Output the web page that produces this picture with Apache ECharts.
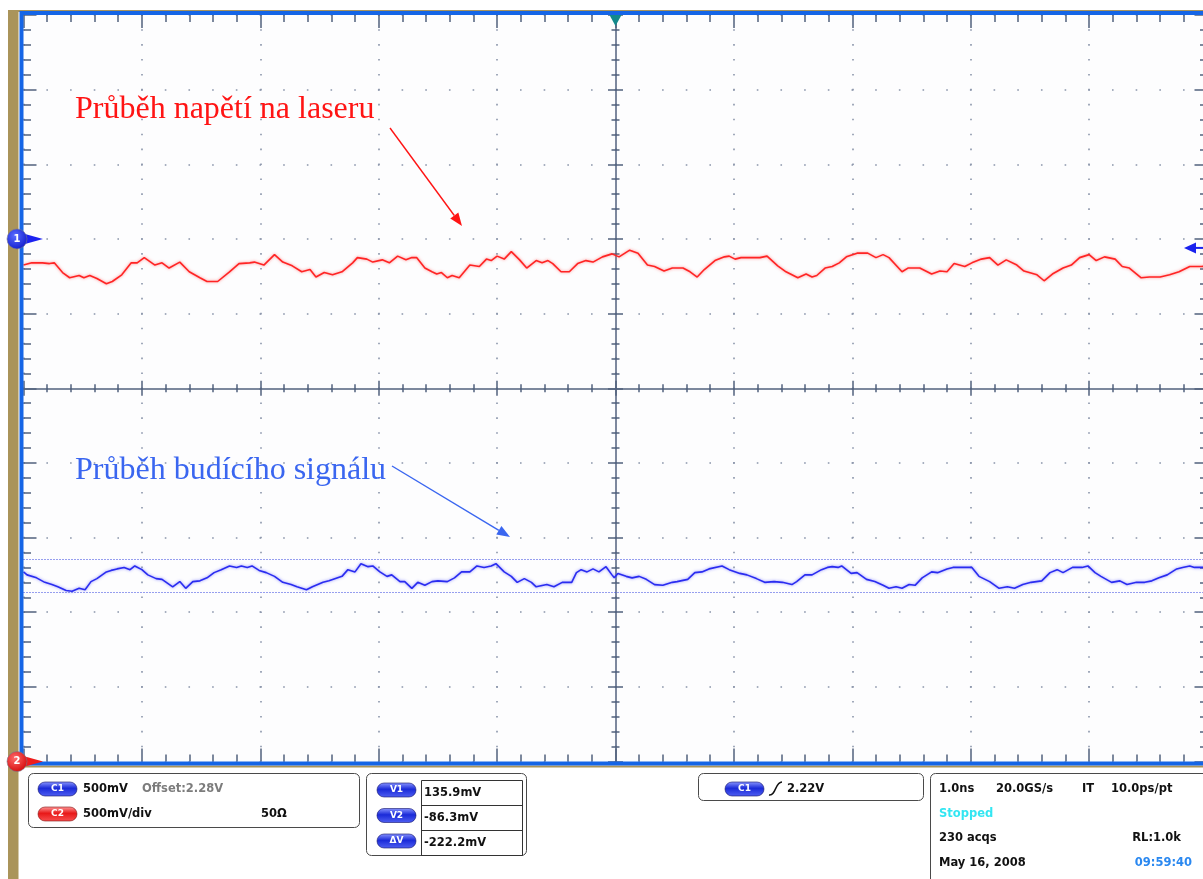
<!DOCTYPE html>
<html><head><meta charset="utf-8">
<script src="https://cdn.jsdelivr.net/npm/echarts@6/dist/echarts.min.js"></script>
<style>html,body{margin:0;padding:0;background:#fff;}#c{width:1203px;height:879px;}</style>
</head><body><div id="c"></div>
<script>
// ---- DATA (time in ns relative to trigger, amplitude in screen divisions from centre) ----
const redTrace = [
[-5.00,1.65],[-4.93,1.68],[-4.84,1.68],[-4.78,1.67],[-4.74,1.68],[-4.67,1.55],[-4.61,1.48],[-4.53,1.51],[-4.49,1.48],[-4.44,1.51],
[-4.38,1.47],[-4.30,1.40],[-4.25,1.43],[-4.17,1.52],[-4.09,1.68],[-4.04,1.68],[-3.98,1.75],[-3.89,1.65],[-3.83,1.68],[-3.77,1.61],
[-3.68,1.69],[-3.60,1.56],[-3.51,1.48],[-3.45,1.43],[-3.36,1.43],[-3.26,1.56],[-3.18,1.67],[-3.09,1.68],[-3.05,1.69],[-2.97,1.65],
[-2.88,1.79],[-2.81,1.69],[-2.73,1.64],[-2.65,1.56],[-2.58,1.59],[-2.53,1.49],[-2.46,1.55],[-2.39,1.52],[-2.31,1.56],[-2.22,1.68],
[-2.18,1.75],[-2.10,1.73],[-2.05,1.69],[-1.97,1.72],[-1.91,1.68],[-1.84,1.77],[-1.77,1.72],[-1.72,1.75],[-1.68,1.75],[-1.61,1.61],
[-1.55,1.56],[-1.51,1.53],[-1.47,1.55],[-1.42,1.48],[-1.38,1.51],[-1.32,1.48],[-1.23,1.65],[-1.15,1.63],[-1.09,1.73],[-1.05,1.71],
[-1.00,1.77],[-0.94,1.73],[-0.88,1.83],[-0.81,1.72],[-0.75,1.61],[-0.67,1.71],[-0.62,1.68],[-0.57,1.71],[-0.53,1.67],[-0.46,1.56],
[-0.39,1.56],[-0.32,1.67],[-0.25,1.71],[-0.19,1.69],[-0.11,1.76],[-0.03,1.80],[0.03,1.76],[0.12,1.85],[0.19,1.81],[0.27,1.65],
[0.33,1.63],[0.41,1.57],[0.48,1.61],[0.57,1.61],[0.63,1.56],[0.69,1.49],[0.75,1.59],[0.84,1.71],[0.92,1.76],[0.96,1.77],
[1.01,1.73],[1.06,1.75],[1.16,1.75],[1.22,1.75],[1.28,1.77],[1.37,1.64],[1.44,1.56],[1.54,1.48],[1.61,1.53],[1.66,1.49],
[1.70,1.51],[1.77,1.61],[1.83,1.63],[1.89,1.68],[1.95,1.76],[2.04,1.81],[2.13,1.81],[2.20,1.75],[2.26,1.79],[2.31,1.75],
[2.42,1.56],[2.47,1.61],[2.57,1.61],[2.67,1.53],[2.74,1.57],[2.80,1.56],[2.86,1.67],[2.95,1.63],[3.01,1.68],[3.09,1.73],
[3.16,1.75],[3.23,1.65],[3.30,1.72],[3.39,1.65],[3.45,1.57],[3.56,1.52],[3.62,1.44],[3.69,1.53],[3.78,1.61],[3.85,1.65],
[3.92,1.75],[4.00,1.79],[4.06,1.71],[4.13,1.76],[4.22,1.73],[4.28,1.63],[4.34,1.61],[4.44,1.48],[4.51,1.49],[4.60,1.49],
[4.68,1.52],[4.76,1.56],[4.85,1.63],[4.95,1.63],[5.00,1.64]
];
const blueTrace = [
[-5.00,-2.46],[-4.97,-2.50],[-4.89,-2.54],[-4.82,-2.60],[-4.76,-2.63],[-4.71,-2.66],[-4.64,-2.71],[-4.59,-2.72],[-4.53,-2.68],[-4.48,-2.70],
[-4.43,-2.59],[-4.38,-2.55],[-4.30,-2.46],[-4.26,-2.44],[-4.21,-2.42],[-4.15,-2.40],[-4.10,-2.43],[-4.06,-2.38],[-4.00,-2.43],[-3.95,-2.50],
[-3.88,-2.55],[-3.83,-2.56],[-3.74,-2.66],[-3.68,-2.59],[-3.63,-2.68],[-3.57,-2.59],[-3.51,-2.58],[-3.45,-2.54],[-3.39,-2.47],[-3.33,-2.43],
[-3.26,-2.38],[-3.20,-2.40],[-3.16,-2.38],[-3.11,-2.40],[-3.07,-2.38],[-3.01,-2.44],[-2.95,-2.47],[-2.88,-2.52],[-2.81,-2.60],[-2.74,-2.63],
[-2.69,-2.66],[-2.61,-2.70],[-2.56,-2.66],[-2.47,-2.60],[-2.42,-2.58],[-2.31,-2.52],[-2.26,-2.43],[-2.20,-2.46],[-2.15,-2.35],[-2.09,-2.39],
[-2.05,-2.38],[-1.99,-2.46],[-1.93,-2.52],[-1.89,-2.50],[-1.82,-2.59],[-1.78,-2.59],[-1.72,-2.68],[-1.67,-2.60],[-1.61,-2.64],[-1.55,-2.59],
[-1.50,-2.58],[-1.42,-2.59],[-1.36,-2.54],[-1.30,-2.46],[-1.23,-2.46],[-1.17,-2.38],[-1.11,-2.40],[-1.05,-2.38],[-1.01,-2.35],[-0.94,-2.46],
[-0.88,-2.52],[-0.83,-2.60],[-0.77,-2.55],[-0.71,-2.60],[-0.67,-2.66],[-0.58,-2.63],[-0.52,-2.66],[-0.45,-2.60],[-0.37,-2.60],[-0.33,-2.47],
[-0.29,-2.43],[-0.24,-2.46],[-0.19,-2.42],[-0.14,-2.46],[-0.08,-2.39],[-0.03,-2.50],[-0.01,-2.54],[0.02,-2.48],[0.09,-2.52],[0.14,-2.54],
[0.20,-2.52],[0.26,-2.56],[0.33,-2.63],[0.40,-2.64],[0.48,-2.60],[0.52,-2.59],[0.61,-2.56],[0.67,-2.47],[0.73,-2.46],[0.79,-2.42],
[0.90,-2.38],[0.96,-2.43],[1.05,-2.48],[1.11,-2.50],[1.19,-2.55],[1.26,-2.60],[1.34,-2.59],[1.41,-2.60],[1.49,-2.63],[1.53,-2.59],
[1.60,-2.50],[1.66,-2.50],[1.74,-2.43],[1.79,-2.40],[1.83,-2.39],[1.88,-2.40],[1.91,-2.38],[1.99,-2.48],[2.04,-2.47],[2.12,-2.56],
[2.19,-2.59],[2.26,-2.64],[2.31,-2.68],[2.37,-2.66],[2.42,-2.68],[2.48,-2.63],[2.53,-2.64],[2.59,-2.54],[2.67,-2.46],[2.72,-2.47],
[2.80,-2.42],[2.85,-2.40],[3.01,-2.40],[3.07,-2.52],[3.16,-2.59],[3.24,-2.68],[3.31,-2.66],[3.37,-2.68],[3.44,-2.63],[3.51,-2.60],
[3.60,-2.58],[3.67,-2.47],[3.73,-2.43],[3.78,-2.47],[3.86,-2.40],[3.94,-2.40],[3.99,-2.38],[4.05,-2.47],[4.10,-2.52],[4.19,-2.60],
[4.26,-2.58],[4.32,-2.63],[4.40,-2.60],[4.47,-2.60],[4.53,-2.58],[4.59,-2.54],[4.66,-2.50],[4.74,-2.42],[4.79,-2.40],[4.85,-2.38],
[4.89,-2.40],[4.96,-2.40],[5.00,-2.40]
];
const cursorLevels = [-2.287, -2.731];          // V1, V2 cursors (div)
const channelLevels = [2.0, -5.0];               // channel 1 / channel 2 reference markers (div)
const refArrowLevel = 1.88;                       // right-side reference arrow (div)
const triggerTime = 0;                            // trigger position (ns)
const xTicksRange = [-5, 5];                      // 10 horizontal divisions (1.0 ns/div)
const yTicksRange = [-5, 5];                      // 10 vertical divisions
const annotations = ['Průběh napětí na laseru', 'Průběh budícího signálu'];
const chanRows = [['C1','500mV','Offset:2.28V',''],['C2','500mV/div','','50Ω']];
const cursorLabels = ['V1','V2','ΔV'];
const cursorValues = ['135.9mV','-86.3mV','-222.2mV'];
const triggerReadout = ['C1','2.22V'];
const acqInfo = ['1.0ns','20.0GS/s','IT','10.0ps/pt','Stopped','230 acqs','RL:1.0k','May 16, 2008','09:59:40'];

// ---- LAYOUT ----
const G = {left:23.5, top:15, width:1184, height:746.5};
const AX = '#52617e';
const DOT = '#8a95aa';
const FONT = '"DejaVu Sans", "Liberation Sans", Arial, sans-serif';

function xAx(pos, off, inside, maj, mnr, line, split) {
  return {type:'value', min:xTicksRange[0], max:xTicksRange[1], interval:1, position:pos, offset:off,
    axisLine:{show:line, onZero:false, lineStyle:{color:AX, width:1.5}},
    axisTick:{show:true, inside:inside, length:maj, lineStyle:{color:AX, width:1.5}},
    minorTick:{show:true, splitNumber:5, length:mnr, lineStyle:{color:AX, width:1.5}},
    axisLabel:{show:false},
    splitLine:{show:split, lineStyle:{color:DOT, width:1.6, type:[1.6, G.height/50 - 1.6], dashOffset:0.8}},
    minorSplitLine:{show:false}, axisPointer:{show:false}};
}
function yAx(pos, off, inside, maj, mnr, line, split) {
  return {type:'value', min:yTicksRange[0], max:yTicksRange[1], interval:1, position:pos, offset:off,
    axisLine:{show:line, onZero:false, lineStyle:{color:AX, width:1.5}},
    axisTick:{show:true, inside:inside, length:maj, lineStyle:{color:AX, width:1.5}},
    minorTick:{show:true, splitNumber:5, length:mnr, lineStyle:{color:AX, width:1.5}},
    axisLabel:{show:false},
    splitLine:{show:split, lineStyle:{color:DOT, width:1.6, type:[1.6, G.width/50 - 1.6], dashOffset:0.8}},
    minorSplitLine:{show:false}, axisPointer:{show:false}};
}

const chart = echarts.init(document.getElementById('c'), null, {renderer:'canvas'});
chart.setOption({
  animation:false,
  backgroundColor:'#ffffff',
  grid:{left:G.left, top:G.top, width:G.width, height:G.height, show:true, borderWidth:0,
        backgroundColor:'#fdfdfe', containLabel:false, outerBoundsMode:'none'},
  xAxis:[
    xAx('bottom', 0, true, 13, 7, false, true),
    xAx('top', 0, true, 13, 7, false, false),
    xAx('bottom', -G.height/2, true, 7.5, 4, true, false),
    xAx('bottom', -G.height/2, false, 7.5, 4, false, false)
  ],
  yAxis:[
    yAx('left', 0, true, 13, 7.5, false, true),
    yAx('right', 0, true, 13, 7.5, false, false),
    yAx('left', -G.width/2, true, 7.5, 4, true, false),
    yAx('left', -G.width/2, false, 7.5, 4, false, false)
  ],
  series:[
    {type:'line', name:'laser', xAxisIndex:0, yAxisIndex:0, data:redTrace, symbol:'none', z:10,
     lineStyle:{color:'#ff2424', width:1.6, shadowBlur:3, shadowColor:'rgba(255,90,90,0.7)'}},
    {type:'line', name:'drive', xAxisIndex:0, yAxisIndex:0, data:blueTrace, symbol:'none', z:10,
     lineStyle:{color:'#2a2cf0', width:1.6, shadowBlur:3, shadowColor:'rgba(90,90,255,0.7)'},
     markLine:{silent:true, symbol:'none', label:{show:false},
       lineStyle:{color:'#2f3fe0', width:1, type:[1,2]},
       data:cursorLevels.map(v => ({yAxis:v}))}}
  ]
});

function px(x, y){ return chart.convertToPixel({xAxisIndex:0, yAxisIndex:0}, [x, y]); }
const els = [];
const KH = '#aa945a';
// frame
els.push({type:'rect', shape:{x:8, y:10, width:10.5, height:869}, style:{fill:KH}, z:40});
els.push({type:'rect', shape:{x:8, y:10, width:1195, height:2}, style:{fill:KH}, z:40});
els.push({type:'rect', shape:{x:8, y:765.5, width:1195, height:2}, style:{fill:KH}, z:40});
els.push({type:'rect', shape:{x:G.left-2, y:G.top-2, width:G.width+4, height:G.height+4},
          style:{fill:'none', stroke:'#1565e6', lineWidth:4}, z:41});
// trigger marker
const tx = px(triggerTime, 0)[0];
els.push({type:'polygon', shape:{points:[[tx-6,G.top],[tx+6,G.top],[tx,G.top+11]]}, style:{fill:'#13898c'}, z:45});
// channel markers
function chanMarker(label, yv, c0, c1, arrow){
  const py = px(-5, yv)[1];
  els.push({type:'polygon', shape:{points:[[25,py-5],[25,py+5],[43,py]]}, style:{fill:arrow}, z:60});
  els.push({type:'circle', shape:{cx:17, cy:py, r:10},
    style:{fill:new echarts.graphic.RadialGradient(0.4,0.35,0.75,[{offset:0,color:c0},{offset:1,color:c1}]),
           stroke:'rgba(120,120,140,0.6)', lineWidth:1}, z:61});
  els.push({type:'text', style:{text:label, x:17, y:py, align:'center', verticalAlign:'middle',
    textAlign:'center', textVerticalAlign:'middle', font:'bold 10px '+FONT, fill:'#ffffff'}, z:62});
}
chanMarker('1', channelLevels[0], '#5a6cff', '#0a14c8', '#1c22f0');
chanMarker('2', channelLevels[1], '#ff6a6a', '#d00000', '#ee1c1c');
// right reference arrow
const ry = px(5, refArrowLevel)[1];
els.push({type:'polygon', shape:{points:[[1184,ry],[1196,ry-5.5],[1196,ry+5.5]]}, style:{fill:'#1a22ee'}, z:60});
els.push({type:'line', shape:{x1:1195, y1:ry, x2:1203, y2:ry}, style:{stroke:'#1a22ee', lineWidth:2}, z:60});
// annotations
function arrow(x1,y1,x2,y2,col){
  const dx=x2-x1, dy=y2-y1, L=Math.hypot(dx,dy), ux=dx/L, uy=dy/L, hl=13, hw=5;
  const bx=x2-ux*hl, by=y2-uy*hl;
  els.push({type:'line', shape:{x1:x1,y1:y1,x2:bx,y2:by}, style:{stroke:col, lineWidth:1.4}, z:55});
  els.push({type:'polygon', shape:{points:[[x2,y2],[bx-uy*hw,by+ux*hw],[bx+uy*hw,by-ux*hw]]}, style:{fill:col}, z:55});
}
els.push({type:'text', style:{text:annotations[0], x:75, y:110, align:'left', verticalAlign:'middle',
  textAlign:'left', textVerticalAlign:'middle', font:'32px "Liberation Serif", "Times New Roman", serif', fill:'#ff1414'}, z:55});
arrow(390,128,462,226,'#ff1414');
els.push({type:'text', style:{text:annotations[1], x:75, y:471, align:'left', verticalAlign:'middle',
  textAlign:'left', textVerticalAlign:'middle', font:'32px "Liberation Serif", "Times New Roman", serif', fill:'#3a66f0'}, z:55});
arrow(392,466,510,537,'#3a66f0');

// bottom panel
function box(x,y,w,h){ els.push({type:'rect', shape:{x:x,y:y,width:w,height:h,r:5}, style:{fill:'#ffffff', stroke:'#4a4a4a', lineWidth:1}, z:50}); }
function pill(x,yc,label,red){
  const g = red ? [{offset:0,color:'#ff9a9a'},{offset:0.45,color:'#e81818'},{offset:1,color:'#f85050'}]
                : [{offset:0,color:'#8a96ff'},{offset:0.45,color:'#1a2ad8'},{offset:1,color:'#5060f2'}];
  els.push({type:'rect', shape:{x:x,y:yc-7,width:39,height:14,r:7},
    style:{fill:new echarts.graphic.LinearGradient(0,0,0,1,g), stroke:red?'#801010':'#10106a', lineWidth:0.6}, z:51});
  els.push({type:'text', style:{text:label, x:x+19.5, y:yc, align:'center', verticalAlign:'middle',
    textAlign:'center', textVerticalAlign:'middle', font:'bold 9px '+FONT, fill:'#ffffff'}, z:52});
}
function txt(s,x,y,col,al){
  els.push({type:'text', style:{text:s, x:x, y:y, align:al||'left', verticalAlign:'middle',
    textAlign:al||'left', textVerticalAlign:'middle', font:'bold 11.5px '+FONT, fill:col||'#111111'}, z:52});
}
box(28.5,773.5,331,54);
chanRows.forEach((r,i)=>{
  const yc = 789 + i*25;
  pill(38, yc, r[0], i===1);
  txt(r[1], 83, yc);
  if (r[2]) txt(r[2], 142, yc, '#7c7c7c');
  if (r[3]) txt(r[3], 261, yc);
});
box(366.5,773.5,160,82);
els.push({type:'rect', shape:{x:421.5,y:780.5,width:101,height:75}, style:{fill:'none', stroke:'#333', lineWidth:1}, z:51});
els.push({type:'line', shape:{x1:421.5,y1:805.5,x2:522.5,y2:805.5}, style:{stroke:'#333', lineWidth:1}, z:51});
els.push({type:'line', shape:{x1:421.5,y1:830.5,x2:522.5,y2:830.5}, style:{stroke:'#333', lineWidth:1}, z:51});
cursorLabels.forEach((l,i)=>{
  pill(377, 790 + i*25.5, l, false);
  txt(cursorValues[i], 424, 793 + i*25);
});
box(698.5,773.5,225,27);
pill(725, 789, triggerReadout[0], false);
els.push({type:'bezierCurve', shape:{x1:769, y1:795, x2:782, y2:782, cpx1:776, cpy1:796, cpx2:775, cpy2:782},
  style:{fill:'none', stroke:'#111', lineWidth:1.6}, z:52});
txt(triggerReadout[1], 787, 789);
box(930.5,773.5,290,120);
txt(acqInfo[0], 939, 789);
txt(acqInfo[1], 996, 789);
txt(acqInfo[2], 1082, 789);
txt(acqInfo[3], 1111, 789);
txt(acqInfo[4], 939, 814, '#33e6f2');
txt(acqInfo[5], 939, 838);
txt(acqInfo[6], 1181, 838, '#111111', 'right');
txt(acqInfo[7], 939, 863);
txt(acqInfo[8], 1192, 863, '#2a88f0', 'right');

chart.setOption({graphic:{elements:els}});
</script>
</body></html>
